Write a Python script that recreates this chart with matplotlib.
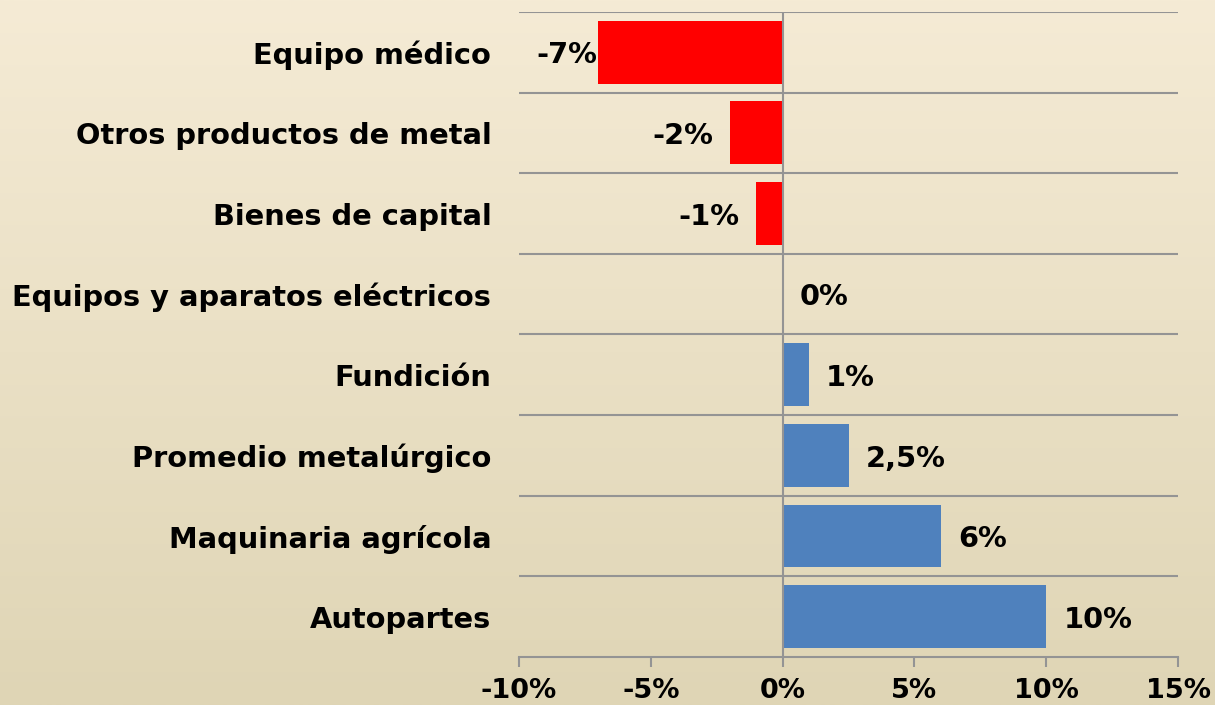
import numpy as np
import matplotlib.pyplot as plt
from matplotlib.colors import LinearSegmentedColormap

categories = ['Equipo médico', 'Otros productos de metal', 'Bienes de capital',
              'Equipos y aparatos eléctricos', 'Fundición', 'Promedio metalúrgico',
              'Maquinaria agrícola', 'Autopartes']
values = [-7, -2, -1, 0, 1, 2.5, 6, 10]
value_labels = ['-7%', '-2%', '-1%', '0%', '1%', '2,5%', '6%', '10%']
xticks = [-10, -5, 0, 5, 10, 15]
xtick_labels = ['-10%', '-5%', '0%', '5%', '10%', '15%']

fig = plt.figure(figsize=(12.15, 7.05), dpi=100)

# gradient background
bg = fig.add_axes([0, 0, 1, 1], zorder=-1)
cmap = LinearSegmentedColormap.from_list('bg', ['#F5EBD5', '#DFD5B5'])
bg.imshow(np.linspace(0, 1, 256).reshape(-1, 1), aspect='auto', cmap=cmap,
          extent=[0, 1, 0, 1])
bg.axis('off')

ax = fig.add_axes([0.4272, 0.0681, 0.5424, 0.915])
ax.patch.set_alpha(0)

y = np.arange(len(categories))
colors = ['#FF0000' if v < 0 else '#4F81BD' for v in values]
ax.barh(y, values, height=0.78, color=colors, zorder=2)

ax.set_xlim(-10, 15)
ax.set_ylim(len(categories) - 0.5, -0.5)

# horizontal gridlines at category boundaries
for b in np.arange(-0.5, len(categories) - 0.5, 1):
    ax.axhline(b, color='#949494', lw=1.5, zorder=1)
ax.axvline(0, color='#949494', lw=1.5, zorder=3)

ax.set_yticks(y)
ax.set_yticklabels(categories, fontsize=20.8, fontweight='bold')
ax.tick_params(axis='y', length=0, pad=20)

ax.set_xticks(xticks)
ax.set_xticklabels(xtick_labels, fontsize=19.5, fontweight='bold')
ax.tick_params(axis='x', length=7, width=1.5, color='#949494', pad=8)

for s in ['left', 'right', 'top']:
    ax.spines[s].set_visible(False)
ax.spines['bottom'].set_color('#949494')
ax.spines['bottom'].set_linewidth(1.5)

for i, (v, lab) in enumerate(zip(values, value_labels)):
    if v < 0:
        off = 0.05 if v <= -5 else 0.65
        ax.text(v - off, i + 0.04, lab, ha='right', va='center',
                fontsize=20.8, fontweight='bold', zorder=4)
    else:
        ax.text(v + 0.65, i + 0.04, lab, ha='left', va='center',
                fontsize=20.8, fontweight='bold', zorder=4)

fig.savefig('out.png', dpi=100)
